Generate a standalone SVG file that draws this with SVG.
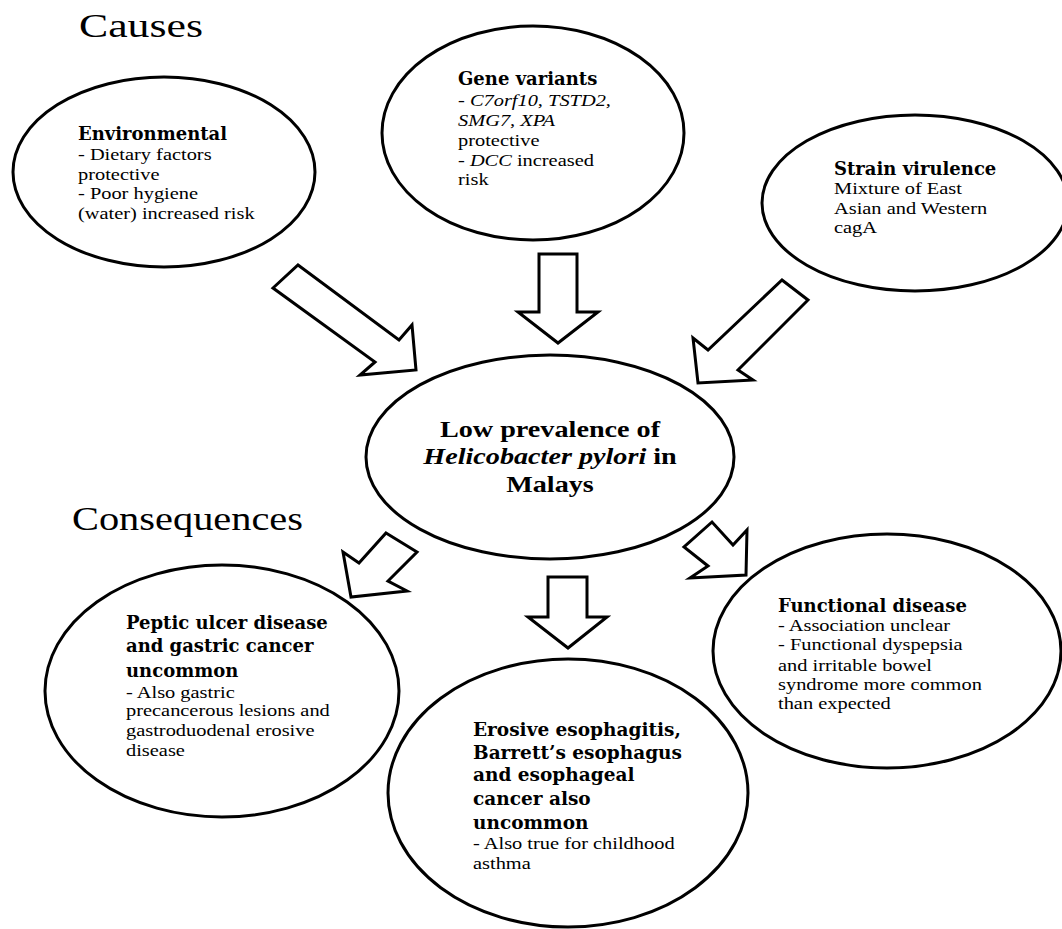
<svg xmlns="http://www.w3.org/2000/svg" width="1062" height="929" viewBox="0 0 1062 929">
<style>
.node ellipse{fill:#fff;stroke:#000;stroke-width:3}
.arrows polygon{fill:#fff;stroke:#000;stroke-width:3;stroke-linejoin:miter}
.hd{font-family:"Liberation Serif","Times New Roman",serif;font-size:33px;fill:#000}
.tt{font-family:"DejaVu Serif",serif;font-weight:bold;font-size:18px;fill:#000}
.bd{font-family:"Liberation Serif","Times New Roman",serif;font-size:17px;fill:#000}
.ct{font-family:"Liberation Serif","Times New Roman",serif;font-weight:bold;font-size:23.5px;fill:#000}
.it{font-style:italic}
</style>
<rect width="1062" height="929" fill="#fff"/>
<text class="hd" x="79" y="37" textLength="124" lengthAdjust="spacingAndGlyphs">Causes</text>
<text class="hd" x="72" y="530" textLength="231" lengthAdjust="spacingAndGlyphs">Consequences</text>

<g id="connectors" class="arrows">
<polygon points="298,265 399,340 412,325 416,370 360,375 375,362 273,288"/>
<polygon points="539,254 577,254 577,312 598,312 558,343 518,312 539,312"/>
<polygon points="782,280 808,300 738,370 753,380 698,383 693,338 708,350"/>
<polygon points="386,533 417,552 388,581 407,591 351,597 343,552 359,563"/>
<polygon points="548,577 587,577 587,617 607,617 568,648 528,617 548,617"/>
<polygon points="712,522 684,547 708,566 690,578 746,575 747,530 733,545"/>
</g>

<g id="environmental" class="node">
<ellipse cx="164" cy="172" rx="151" ry="95"/>
<text class="tt" x="78" y="140">Environmental</text>
<text class="bd" transform="translate(78,160) scale(1.2,1)"><tspan x="0" y="0">- Dietary factors</tspan><tspan x="0" y="20">protective</tspan><tspan x="0" y="39">- Poor hygiene</tspan><tspan x="0" y="59">(water) increased risk</tspan></text>
</g>

<g id="gene-variants" class="node">
<ellipse cx="533" cy="133" rx="151" ry="107"/>
<text class="tt" x="458" y="85">Gene variants</text>
<text class="bd" transform="translate(458,106) scale(1.2,1)"><tspan x="0" y="0">- <tspan class="it">C7orf10, TSTD2,</tspan></tspan><tspan x="0" y="20" class="it">SMG7, XPA</tspan><tspan x="0" y="40">protective</tspan><tspan x="0" y="60">- <tspan class="it">DCC</tspan> increased</tspan><tspan x="0" y="79">risk</tspan></text>
</g>

<g id="strain-virulence" class="node">
<ellipse cx="915" cy="203" rx="153" ry="88"/>
<text class="tt" x="834" y="175">Strain virulence</text>
<text class="bd" transform="translate(834,194) scale(1.2,1)"><tspan x="0" y="0">Mixture of East</tspan><tspan x="0" y="20">Asian and Western</tspan><tspan x="0" y="39">cagA</tspan></text>
</g>

<g id="center" class="node">
<ellipse cx="550" cy="457" rx="184" ry="102"/>
<text class="ct" text-anchor="middle" transform="translate(550,437) scale(1.2,1)"><tspan x="0" y="0">Low prevalence of</tspan><tspan x="0" y="27"><tspan class="it">Helicobacter pylori</tspan> in</tspan><tspan x="0" y="55">Malays</tspan></text>
</g>

<g id="peptic" class="node">
<ellipse cx="222" cy="691" rx="177" ry="126"/>
<text class="tt"><tspan x="126" y="629">Peptic ulcer disease</tspan><tspan x="126" y="652">and gastric cancer</tspan><tspan x="126" y="677">uncommon</tspan></text>
<text class="bd" transform="translate(126,698) scale(1.2,1)"><tspan x="0" y="0">- Also gastric</tspan><tspan x="0" y="18">precancerous lesions and</tspan><tspan x="0" y="38">gastroduodenal erosive</tspan><tspan x="0" y="58">disease</tspan></text>
</g>

<g id="erosive" class="node">
<ellipse cx="568" cy="793" rx="180" ry="134"/>
<text class="tt" style="font-size:18.5px"><tspan x="473" y="736">Erosive esophagitis,</tspan><tspan x="473" y="759">Barrett’s esophagus</tspan><tspan x="473" y="781">and esophageal</tspan><tspan x="473" y="805">cancer also</tspan><tspan x="473" y="829">uncommon</tspan></text>
<text class="bd" transform="translate(473,849) scale(1.2,1)"><tspan x="0" y="0">- Also true for childhood</tspan><tspan x="0" y="20">asthma</tspan></text>
</g>

<g id="functional" class="node">
<ellipse cx="887" cy="651" rx="174" ry="117"/>
<text class="tt" x="778" y="612">Functional disease</text>
<text class="bd" transform="translate(778,631) scale(1.2,1)"><tspan x="0" y="0">- Association unclear</tspan><tspan x="0" y="19">- Functional dyspepsia</tspan><tspan x="0" y="40">and irritable bowel</tspan><tspan x="0" y="59">syndrome more common</tspan><tspan x="0" y="78">than expected</tspan></text>
</g>
</svg>
